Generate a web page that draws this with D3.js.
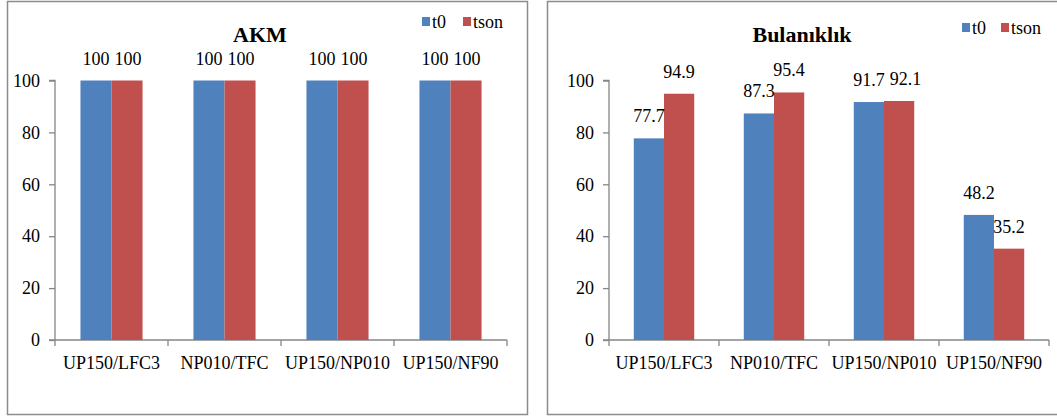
<!DOCTYPE html>
<html>
<head>
<meta charset="utf-8">
<script src="https://cdn.jsdelivr.net/npm/d3@7"></script>
<style>
  html, body { margin: 0; padding: 0; background: #fff; }
  svg { display: block; }
  text { font-family: "Liberation Serif", "Times New Roman", serif; fill: #000; }
</style>
</head>
<body>
<svg id="chart" width="1057" height="418"></svg>
<script>
// Shared categories and series names
const categories = ["UP150/LFC3", "NP010/TFC", "UP150/NP010", "UP150/NF90"];
const seriesNames = ["t0", "tson"];
const yTicks = [0, 20, 40, 60, 80, 100];

// AKM panel values
const akmT0   = [100, 100, 100, 100];
const akmTson = [100, 100, 100, 100];

// Bulanıklık panel values
const bulT0   = [77.7, 87.3, 91.7, 48.2];
const bulTson = [94.9, 95.4, 92.1, 35.2];

const colors = ["#4F81BD", "#C0504D"];
const axisColor = "#868686";
const frameColor = "#8c8c8c";
const FONT = "Liberation Serif, Times New Roman, serif";

const svg = d3.select("#chart");

function drawPanel(cfg) {
  const g = svg.append("g").attr("font-family", FONT);

  // chart frame
  g.append("rect")
    .attr("x", cfg.frame[0] + 0.5).attr("y", cfg.frame[1] + 0.5)
    .attr("width", cfg.frame[2]).attr("height", cfg.frame[3])
    .attr("fill", "#fff").attr("stroke", frameColor).attr("stroke-width", 1.5);

  const x = d3.scaleBand().domain(categories).range([cfg.x0, cfg.x1]);
  const x1 = d3.scaleBand().domain(seriesNames)
    .range([0, x.bandwidth()]).paddingInner(0).paddingOuter(0.82);
  const y = d3.scaleLinear().domain([0, 100]).range([cfg.yBottom, cfg.yTop]);

  // y axis
  const yAxis = g.append("g")
    .attr("transform", `translate(${cfg.x0},0)`)
    .call(d3.axisLeft(y).tickValues(yTicks).tickSize(6).tickPadding(9))
    .attr("font-family", FONT);
  yAxis.selectAll("path, line").attr("stroke", axisColor).attr("stroke-width", 1.3);
  yAxis.select(".domain").attr("d", `M-6,${cfg.yTop}H0V${cfg.yBottom}`);
  yAxis.selectAll("text").attr("font-size", 18).attr("fill", "#000");

  // x axis with ticks between categories
  const xa = g.append("g").attr("transform", `translate(0,${cfg.yBottom})`);
  xa.append("line").attr("x1", cfg.x0 - 6).attr("x2", cfg.x1)
    .attr("stroke", axisColor).attr("stroke-width", 1.3);
  const bounds = categories.map(c => x(c)).concat([cfg.x1]);
  xa.selectAll("line.tk").data(bounds).join("line").attr("class", "tk")
    .attr("x1", d => d).attr("x2", d => d).attr("y1", 0).attr("y2", 6)
    .attr("stroke", axisColor).attr("stroke-width", 1.3);
  xa.selectAll("text").data(categories).join("text")
    .attr("x", d => x(d) + x.bandwidth() / 2)
    .attr("y", 29)
    .attr("text-anchor", "middle").attr("font-size", 18)
    .text(d => d);

  // bars
  const rows = categories.map((c, i) => ({
    cat: c,
    vals: seriesNames.map((s, j) => ({ s, v: cfg.series[j][i], j }))
  }));
  const grp = g.selectAll("g.cat").data(rows).join("g")
    .attr("class", "cat")
    .attr("transform", d => `translate(${x(d.cat)},0)`);
  grp.selectAll("rect").data(d => d.vals).join("rect")
    .attr("x", d => x1(d.s)).attr("width", x1.bandwidth())
    .attr("y", d => y(d.v)).attr("height", d => cfg.yBottom - y(d.v))
    .attr("fill", d => colors[d.j]);
  grp.each(function () {
    const labels = d3.select(this).selectAll("text").data(d => d.vals).join("text")
      .attr("x", d => x1(d.s) + x1.bandwidth() / 2)
      .attr("y", d => y(d.v) - 16)
      .attr("text-anchor", "middle").attr("font-size", 18)
      .text(d => d.v);
    // push the second label right when two labels at similar height collide
    const nodes = labels.nodes();
    const [a, b] = nodes.map(n => n.getBBox());
    if (Math.abs(a.y - b.y) < a.height * 0.6) {
      const overlap = (a.x + a.width + 5) - b.x;
      if (overlap > 0) {
        const el = d3.select(nodes[1]);
        el.attr("x", +el.attr("x") + overlap);
      }
    }
  });

  // title
  g.append("text").attr("x", cfg.titleX).attr("y", 42)
    .attr("text-anchor", "middle").attr("font-size", 22).attr("font-weight", "bold")
    .text(cfg.title);

  // legend
  const lg = g.append("g").attr("transform", `translate(${cfg.legend[0]},${cfg.legend[1]})`);
  const offsets = [0, cfg.legendGap];
  seriesNames.forEach((s, j) => {
    lg.append("rect").attr("x", offsets[j]).attr("y", -5).attr("width", 8).attr("height", 9)
      .attr("fill", colors[j]);
    lg.append("text").attr("x", offsets[j] + 10).attr("y", 6)
      .attr("font-size", 18).text(s);
  });
}

drawPanel({
  frame: [7, 1, 520, 413],
  x0: 55, x1: 507, yTop: 80.5, yBottom: 340,
  series: [akmT0, akmTson],
  title: "AKM", titleX: 260,
  legend: [422, 22], legendGap: 41
});

drawPanel({
  frame: [547, 1, 520, 413],
  x0: 609, x1: 1049, yTop: 80.5, yBottom: 340,
  series: [bulT0, bulTson],
  title: "Bulanıklık", titleX: 802,
  legend: [962, 28], legendGap: 39
});
</script>
</body>
</html>
